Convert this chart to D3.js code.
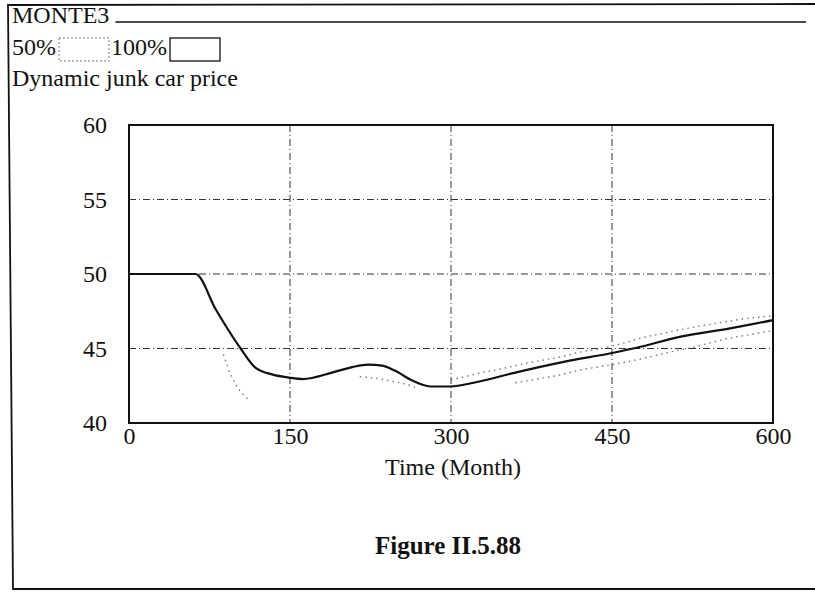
<!DOCTYPE html>
<html>
<head>
<meta charset="utf-8">
<script src="https://cdnjs.cloudflare.com/ajax/libs/d3/7.8.5/d3.min.js"></script>
<style>
  html, body { margin: 0; padding: 0; background: #fff; }
  svg text { font-family: "Liberation Serif", "Times New Roman", serif; fill: #111; }
</style>
</head>
<body>
<svg id="chart" width="815" height="595"></svg>
<script>
// ---- data ----
const modelName = "MONTE3";
const legendLabels = ["50%", "100%"];
const variableName = "Dynamic junk car price";
const xLabel = "Time (Month)";
const figureCaption = "Figure II.5.88";
const xTicks = [0, 150, 300, 450, 600];
const yTicks = [40, 45, 50, 55, 60];

// base run (solid)
const baseTime  = [0, 30, 62, 81, 104, 118, 134, 149, 162, 190, 208, 223, 236, 248, 264, 282, 300, 321, 358, 405, 450, 473, 514, 560, 600];
const baseValue = [50, 50, 50, 47.6, 45.0, 43.7, 43.25, 43.05, 42.95, 43.4, 43.75, 43.92, 43.85, 43.5, 42.85, 42.45, 42.45, 42.7, 43.35, 44.1, 44.7, 45.05, 45.8, 46.35, 46.9];

// 50% confidence bounds (dotted, only partly visible)
const bandTime = [88, 95, 103, 111, 160, 215, 230, 245, 258, 270, 300, 315, 330, 345, 360, 380, 400, 420, 440, 460, 480, 500, 520, 540, 560, 580, 600];
const upper50  = [null, null, null, null, null, null, null, null, null, null, 42.9, 43.15, 43.4, 43.6, 43.85, 44.15, 44.4, 44.75, 45.0, 45.35, 45.75, 46.05, 46.35, 46.6, 46.85, 47.05, 47.2];
const lower50  = [44.6, 43.2, 42.2, 41.6, null, 43.1, 43.0, 42.8, 42.6, 42.3, null, null, null, null, 42.7, 42.95, 43.2, 43.55, 43.8, 44.05, 44.35, 44.7, 45.0, 45.35, 45.7, 45.95, 46.2];

// ---- layout ----
const svg = d3.select("#chart");
const plot = { left: 129, right: 773, top: 125, bottom: 423 };
const x = d3.scaleLinear().domain([0, 600]).range([plot.left, plot.right]);
const y = d3.scaleLinear().domain([40, 60]).range([plot.bottom, plot.top]);
const FS = 24;

// outer frame (slightly skewed like the scan)
svg.append("path")
  .attr("d", "M815,4 L8,5 L13,589 L815,589")
  .attr("fill", "none").attr("stroke", "#111").attr("stroke-width", 1.8);

// header
const hdr = svg.append("text").attr("x", 12).attr("y", 23).attr("font-size", FS).text(modelName);
const hx = 12 + hdr.node().getComputedTextLength() + 6;
svg.append("line").attr("x1", hx).attr("x2", 806).attr("y1", 22).attr("y2", 22)
  .attr("stroke", "#111").attr("stroke-width", 1.6);

// legend
const l1 = svg.append("text").attr("x", 12).attr("y", 55).attr("font-size", FS).text(legendLabels[0]);
let lx = 12 + l1.node().getComputedTextLength() + 3;
svg.append("rect").attr("x", lx).attr("y", 38).attr("width", 50).attr("height", 23)
  .attr("fill", "none").attr("stroke", "#777").attr("stroke-width", 1).attr("stroke-dasharray", "2,2");
lx += 50 + 2;
const l2 = svg.append("text").attr("x", lx).attr("y", 55).attr("font-size", FS).text(legendLabels[1]);
lx += l2.node().getComputedTextLength() + 3;
svg.append("rect").attr("x", lx).attr("y", 38).attr("width", 50).attr("height", 23)
  .attr("fill", "none").attr("stroke", "#111").attr("stroke-width", 1.3);

svg.append("text").attr("x", 12).attr("y", 86).attr("font-size", FS).text(variableName);

// grid
const gridStyle = g => g.attr("stroke", "#333").attr("stroke-width", 1).attr("stroke-dasharray", "7,3,1,3");
svg.append("g").selectAll("line").data(yTicks.filter(v => v > 40 && v < 60)).join("line")
  .attr("x1", plot.left).attr("x2", plot.right).attr("y1", d => y(d)).attr("y2", d => y(d)).call(gridStyle);
svg.append("g").selectAll("line").data(xTicks.filter(v => v > 0 && v < 600)).join("line")
  .attr("y1", plot.top).attr("y2", plot.bottom).attr("x1", d => x(d)).attr("x2", d => x(d)).call(gridStyle);

// axis labels via d3 axes (no tick marks)
const yAxis = svg.append("g").attr("transform", `translate(${plot.left},0)`)
  .call(d3.axisLeft(y).tickValues(yTicks).tickSize(0).tickPadding(22));
yAxis.select(".domain").remove();
yAxis.selectAll("text").attr("font-size", FS).attr("font-family", "Liberation Serif").attr("fill", "#111");

const xAxis = svg.append("g").attr("transform", `translate(0,${plot.bottom})`)
  .call(d3.axisBottom(x).tickValues(xTicks).tickSize(0).tickPadding(4));
xAxis.select(".domain").remove();
xAxis.selectAll("text").attr("font-size", FS).attr("font-family", "Liberation Serif").attr("fill", "#111");

// plot frame
svg.append("rect").attr("x", plot.left).attr("y", plot.top)
  .attr("width", plot.right - plot.left).attr("height", plot.bottom - plot.top)
  .attr("fill", "none").attr("stroke", "#111").attr("stroke-width", 2);

// series
const line = d3.line().defined(d => d[1] != null).x(d => x(d[0])).y(d => y(d[1])).curve(d3.curveMonotoneX);
svg.append("path").datum(bandTime.map((t, i) => [t, upper50[i]]))
  .attr("d", line).attr("fill", "none").attr("stroke", "#777").attr("stroke-width", 1.4).attr("stroke-dasharray", "1.5,4");
svg.append("path").datum(bandTime.map((t, i) => [t, lower50[i]]))
  .attr("d", line).attr("fill", "none").attr("stroke", "#777").attr("stroke-width", 1.4).attr("stroke-dasharray", "1.5,4");
svg.append("path").datum(baseTime.map((t, i) => [t, baseValue[i]]))
  .attr("d", line).attr("fill", "none").attr("stroke", "#111").attr("stroke-width", 2.2);

// titles
svg.append("text").attr("x", 453).attr("y", 475).attr("text-anchor", "middle").attr("font-size", FS).text(xLabel);
svg.append("text").attr("x", 448).attr("y", 554).attr("text-anchor", "middle").attr("font-size", 25)
  .attr("font-weight", "bold").text(figureCaption);
</script>
</body>
</html>
